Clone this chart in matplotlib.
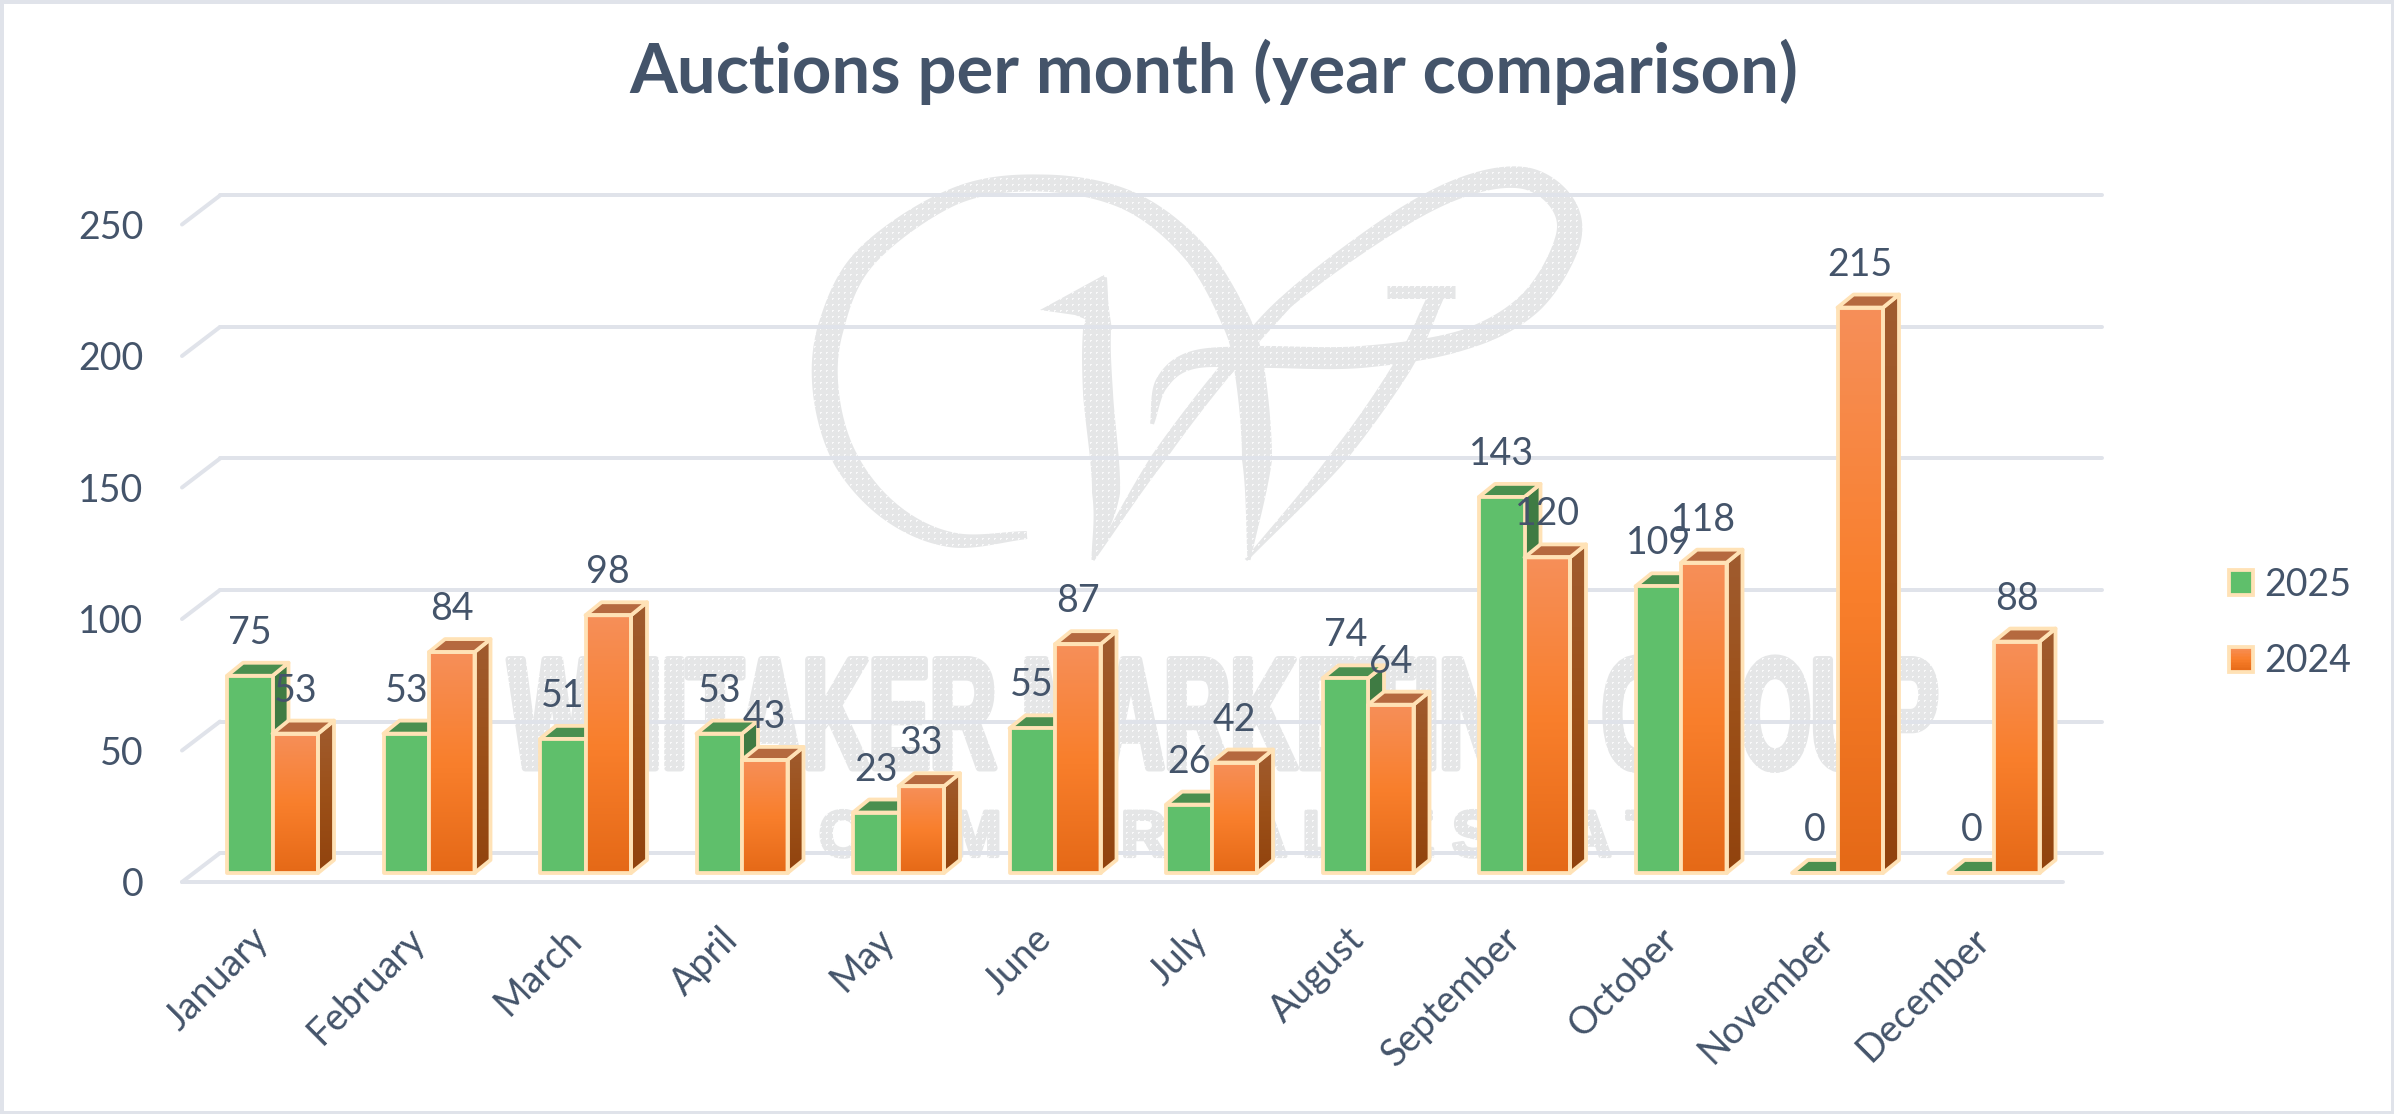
import numpy as np
import matplotlib
matplotlib.use("Agg")
import matplotlib.pyplot as plt
from matplotlib.legend_handler import HandlerBase
from matplotlib.patches import Polygon, Rectangle, Patch
from matplotlib.patheffects import AbstractPathEffect
from matplotlib.transforms import Affine2D, ScaledTranslation

plt.rcParams["font.family"] = ["Lato", "DejaVu Sans"]

months = ["January", "February", "March", "April", "May", "June", "July",
          "August", "September", "October", "November", "December"]
auctions_2025 = [75, 53, 51, 53, 23, 55, 26, 74, 143, 109, 0, 0]
auctions_2024 = [53, 84, 98, 43, 33, 87, 42, 64, 120, 118, 215, 88]
y_ticks = [0, 50, 100, 150, 200, 250]

W, H = 2394, 1114
DPI = 100
PX = 72 / DPI  # one pixel in points

TEXT = "#44546A"
GRID = "#E0E3EA"
EDGE = "#FFE2B6"
MARK = "#E5E6E7"
GREEN = "#5FBF6B"

# plot box in pixels, the rest of the layout hangs off these
BOX_L, BOX_R = 194.25, 2072.25
BOX_BOTTOM, BOX_TOP = 873.0, 215.5
PX_X = (BOX_R - BOX_L) / 12
PX_Y = (BOX_BOTTOM - BOX_TOP) / 250

BAR_W = 45.5 / PX_X
DEPTH_X = 16 / PX_X
DEPTH_Y = 13 / PX_Y


class StretchY(AbstractPathEffect):
    # tall letters with a fattening outline, font stays the same width
    def __init__(self, k, fatten):
        super().__init__()
        self.k = k
        self.fatten = fatten

    def draw_path(self, renderer, gc, tpath, affine, rgbFace=None):
        gc2 = renderer.new_gc()
        gc2.copy_properties(gc)
        gc2.set_linewidth(self.fatten)
        gc2.set_foreground(MARK)
        renderer.draw_path(gc2, tpath, Affine2D().scale(1, self.k) + affine, rgbFace)
        gc2.restore()


def smooth(points, n=24):
    # catmull-rom through the given points
    p = np.array(points, dtype=float)
    p = np.vstack([2 * p[0] - p[1], p, 2 * p[-1] - p[-2]])
    out = []
    for i in range(1, len(p) - 2):
        t = np.linspace(0, 1, n, endpoint=False)[:, None]
        out.append(0.5 * (2 * p[i] + (p[i + 1] - p[i - 1]) * t
                          + (2 * p[i - 1] - 5 * p[i] + 4 * p[i + 1] - p[i + 2]) * t ** 2
                          + (3 * p[i] - p[i - 1] - 3 * p[i + 1] + p[i + 2]) * t ** 3))
    out.append(p[-2:-1])
    return np.vstack(out)


def ribbon(points, widths, n=24):
    # pen stroke with changing width, returned as one outline
    xy = smooth(points, n)
    w = np.interp(np.arange(len(xy)), np.arange(len(widths)) * n, widths)[:, None]
    d = np.gradient(xy, axis=0)
    normal = np.column_stack([-d[:, 1], d[:, 0]]) / np.linalg.norm(d, axis=1, keepdims=True)
    return np.vstack([xy + normal * w / 2, (xy - normal * w / 2)[::-1]])


def gradient(stops, n=128):
    # vertical colour ramp, first stop on top
    pos = np.linspace(0, 1, len(stops))
    rgb = np.array([matplotlib.colors.to_rgb(c) for c in stops])
    t = np.linspace(0, 1, n)
    return np.stack([np.interp(t, pos, rgb[:, i]) for i in range(3)], axis=1)[:, None, :]


class RampHandler(HandlerBase):
    # legend key filled with the same ramp as the bars
    def create_artists(self, legend, orig, xd, yd, w, h, fontsize, trans):
        ramp = gradient(orig.stops, 16)[:, 0]
        out = []
        for k, c in enumerate(ramp):
            out.append(Rectangle((-xd, -yd + h * (1 - (k + 1) / 16)), w, h / 16 + 0.3, fc=c, lw=0, transform=trans))
        out.append(Rectangle((-xd, -yd), w, h, fc="none", ec=EDGE, lw=3.8 * PX, transform=trans))
        return out


fig = plt.figure(figsize=(W / DPI, H / DPI), dpi=DPI, facecolor="white")

# ==================== background: frame and logo ====================
bg = fig.add_axes([0, 0, 1, 1], zorder=0)
bg.set_axis_off()
bg.add_patch(Rectangle((1.5, 1.5), W - 3, H - 3, fc="white", ec=GRID, lw=4 * PX))

swash = [(1027, 535), (953, 540), (892, 513), (846, 460), (826, 393), (831, 327),
         (866, 257), (953, 197), (1040, 183), (1127, 200), (1193, 250), (1234, 317),
         (1249, 367), (1257, 460), (1249, 560)]
swash_w = [8, 15, 20, 25, 26, 26, 22, 17, 17, 20, 24, 28, 30, 30, 3]
stem = [(1104, 277), (1097, 330), (1098, 393), (1106, 493), (1093, 560)]
stem_w = [6, 28, 30, 28, 3]
diagonal = [(1093, 560), (1157, 460), (1223, 373), (1285, 303)]
diagonal_w = [3, 14, 14, 14]
loop = [(1223, 373), (1285, 303), (1387, 227), (1463, 187), (1524, 178), (1562, 203),
        (1567, 243), (1530, 303), (1463, 340), (1361, 357), (1259, 357), (1193, 360),
        (1162, 383), (1152, 424)]
loop_w = [14, 14, 18, 20, 22, 24, 26, 24, 20, 22, 22, 18, 14, 4]
right_stroke = [(1246, 560), (1336, 460), (1402, 367), (1433, 303), (1438, 292)]
right_w = [3, 16, 18, 16, 14]
for pts, widths in [(swash, swash_w), (stem, stem_w), (diagonal, diagonal_w),
                    (loop, loop_w), (right_stroke, right_w)]:
    bg.add_patch(Polygon(ribbon(pts, widths), fc=MARK, ec="none"))
bg.add_patch(Polygon([(1040, 310), (1104, 275), (1112, 330), (1075, 315)], fc=MARK, ec="none"))
bg.plot([1387, 1455], [292, 292], color=MARK, lw=13 * PX, solid_capstyle="butt")

bg.text(1223, 768, "WHITAKER MARKETING GROUP", color=MARK, fontsize=66, fontweight="bold",
        family="Liberation Sans", ha="center", va="baseline",
        path_effects=[StretchY(1.72, 5)])
bg.text(819, 856, "C O M O   R E A L   E S T A T E", color=MARK, fontsize=45.5, fontweight="bold",
        family="Liberation Sans", ha="left", va="baseline",
        path_effects=[StretchY(1.02, 3)])

# white dot screen, only shows where it lands on the logo
dots = np.zeros((720, 1480, 4))
dots[::6, ::6, :] = [1, 1, 1, 0.8]
dots[1::6, ::6, :] = [1, 1, 1, 0.8]
dots[::6, 1::6, :] = [1, 1, 1, 0.8]
bg.imshow(dots, extent=[490, 1970, 880, 160], aspect="auto", interpolation="nearest", zorder=3)
bg.set_xlim(0, W)
bg.set_ylim(H, 0)

# ==================== chart axes ====================
ax = fig.add_axes([BOX_L / W, 1 - BOX_BOTTOM / H, (BOX_R - BOX_L) / W, (BOX_BOTTOM - BOX_TOP) / H],
                  zorder=1)
ax.patch.set_alpha(0)
for side in ax.spines.values():
    side.set_visible(False)

# walls of the 3D box
floor_front = -9 / PX_Y
floor_back = 20 / PX_Y
left_front, left_back = (182 - 272.5) / PX_X, (220 - 272.5) / PX_X
right_front, right_back = (2063 - 272.5) / PX_X, (2102 - 272.5) / PX_X
line_style = dict(color=GRID, lw=4 * PX, solid_capstyle="round", clip_on=False, zorder=1)
for v in y_ticks:
    ax.plot([left_back, right_back], [v + floor_back] * 2, **line_style)
    ax.plot([left_front, left_back], [v + floor_front, v + floor_back], **line_style)
ax.plot([left_front, right_front], [floor_front] * 2, **line_style)

front_stops = ["#F68F59", "#F97F2C", "#E56917"]
orange_front = gradient(front_stops)
orange_side = gradient(["#A05C30", "#9C5018", "#91430E"])


def draw_bar(x0, v, z, front, side, top):
    x1 = x0 + BAR_W
    side_poly = [(x1, 0), (x1 + DEPTH_X, DEPTH_Y), (x1 + DEPTH_X, v + DEPTH_Y), (x1, v)]
    top_poly = [(x0, v), (x0 + DEPTH_X, v + DEPTH_Y), (x1 + DEPTH_X, v + DEPTH_Y), (x1, v)]
    edge = dict(ec=EDGE, lw=3.8 * PX, joinstyle="round", clip_on=False, zorder=z)

    if isinstance(side, str):
        ax.add_patch(Polygon(side_poly, fc=side, **edge))
    else:
        shape = Polygon(side_poly, fc="none", **edge)
        ax.add_patch(shape)
        im = ax.imshow(side, extent=[x1, x1 + DEPTH_X, 0, v + DEPTH_Y], aspect="auto", zorder=z - 0.1)
        im.set_clip_path(shape)
    ax.add_patch(Polygon(top_poly, fc=top, **edge))

    if isinstance(front, str):
        ax.add_patch(Rectangle((x0, 0), BAR_W, v, fc=front, **edge))
    else:
        ax.imshow(front, extent=[x0, x1, 0, v], aspect="auto", zorder=z - 0.1)
        ax.add_patch(Rectangle((x0, 0), BAR_W, v, fc="none", **edge))


z = 5
for i, (a, b) in enumerate(zip(auctions_2025, auctions_2024)):
    draw_bar(i - BAR_W, a, z, GREEN, "#3F7B43", "#4A8F4F")
    draw_bar(i, b, z + 1, orange_front, orange_side, "#B5693F")
    z += 2

for i, (a, b) in enumerate(zip(auctions_2025, auctions_2024)):
    for x, v in [(i - BAR_W / 2, a), (i + BAR_W / 2, b)]:
        ax.annotate(str(v), (x, v), xytext=(0, 43 * PX), textcoords="offset points",
                    ha="center", va="center", fontsize=27, color=TEXT,
                    annotation_clip=False, zorder=100)

ax.set_xlim(-0.5, 11.5)
ax.set_ylim(0, 250)
ax.set_xticks(range(12))
ax.set_xticklabels(months, rotation=45, ha="right", va="top", fontsize=27, color=TEXT)
ax.set_yticks(y_ticks)
ax.set_yticklabels([str(v) for v in y_ticks], fontsize=27, color=TEXT)
ax.tick_params(axis="x", length=0, pad=48 * PX)
ax.tick_params(axis="y", length=0, pad=51 * PX)
down = ScaledTranslation(0, -9 / DPI, fig.dpi_scale_trans)
for label in ax.get_yticklabels():
    label.set_transform(label.get_transform() + down)
nudge = ScaledTranslation(3 / DPI, 0, fig.dpi_scale_trans)
for label in ax.get_xticklabels():
    label.set_transform(label.get_transform() + nudge)

# ==================== title and legend ====================
fig.text(1214 / W, 1 - 72 / H, "Auctions per month (year comparison)", fontsize=49.6,
         fontweight="bold", color=TEXT, ha="center", va="center")

key_2025 = Patch(fc=GREEN, ec=EDGE, lw=3.8 * PX)
key_2024 = Patch(fc="#F27A2A", ec=EDGE)
key_2024.stops = front_stops
fig.legend([key_2025, key_2024], ["2025", "2024"], loc="center left",
           bbox_to_anchor=(2229 / W, 1 - 623 / H), handler_map={key_2024: RampHandler()},
           frameon=False, fontsize=27, labelcolor=TEXT, handlelength=0.63, handleheight=0.63,
           handletextpad=0.3, labelspacing=1.09, borderpad=0, borderaxespad=0)

fig.savefig("out.png", dpi=DPI)
